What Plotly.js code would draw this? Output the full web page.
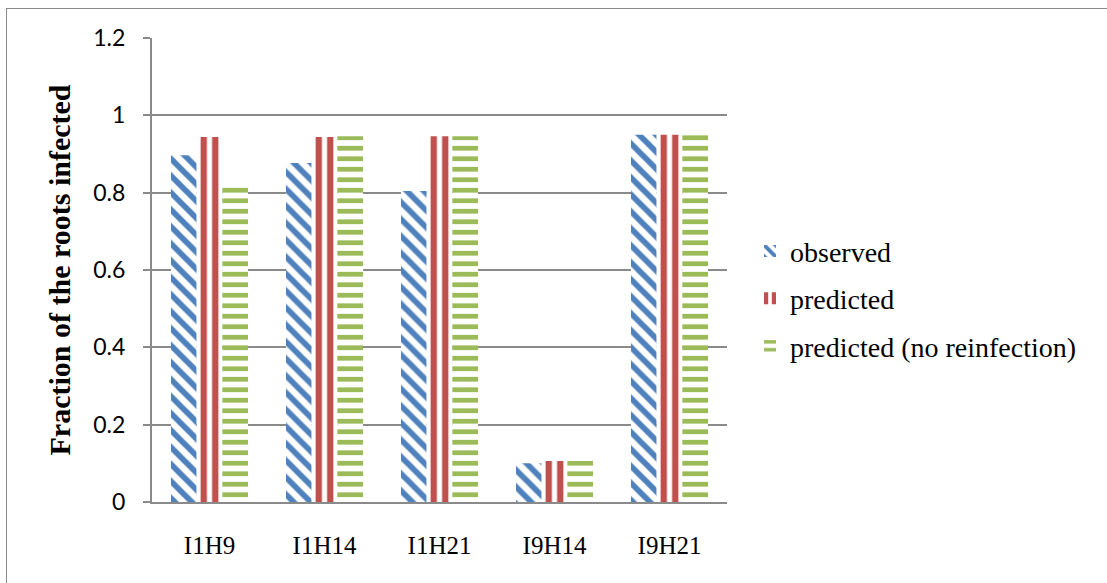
<!DOCTYPE html>
<html>
<head>
<meta charset="utf-8">
<script src="https://cdn.plot.ly/plotly-3.0.1.min.js"></script>
<style>
  html, body { margin: 0; padding: 0; background: #fff; overflow: hidden; }
  #wrap { position: relative; width: 1107px; height: 583px; }
  #chart { width: 1107px; height: 583px; }
  #frame { position: absolute; left: 6px; top: 8px; width: 1300px; height: 800px;
           border: 1px solid #8a8a8a; pointer-events: none; box-sizing: border-box; }
</style>
</head>
<body>
<div id="wrap">
  <div id="chart"></div>
  <div id="frame"></div>
</div>
<script>
const categories = ["I1H9", "I1H14", "I1H21", "I9H14", "I9H21"];
const observed = [0.897, 0.877, 0.804, 0.100, 0.950];
const predicted = [0.944, 0.944, 0.946, 0.106, 0.950];
const predictedNoReinfection = [0.815, 0.946, 0.946, 0.106, 0.950];
const yTickValues = [0, 0.2, 0.4, 0.6, 0.8, 1, 1.2];
const yTickLabels = ["0", "0.2", "0.4", "0.6", "0.8", "1", "1.2"];

const SERIF = "'Liberation Serif', 'Times New Roman', Times, serif";
const SANS = "Lato, 'Liberation Sans', sans-serif";

function bar(name, values, color, shape, size, solidity, group) {
  return {
    type: "bar",
    name: name,
    x: categories,
    y: values,
    legendgroup: group,
    marker: {
      color: "#ffffff",
      line: { width: 0 },
      pattern: { shape: shape, fgcolor: color, bgcolor: "#ffffff",
                 fillmode: "replace", size: size, solidity: solidity }
    },
    hoverinfo: "x+y+name"
  };
}

const data = [
  bar("observed", observed, "#4F81BD", "\\", 12, 0.48, "a"),
  bar("predicted", predicted, "#C0504D", "|", 11.5, 0.55, "b"),
  bar("predicted (no reinfection)", predictedNoReinfection, "#9BBB59", "-", 10.5, 0.45, "c")
];

const layout = {
  width: 1107,
  height: 583,
  margin: { l: 152, r: 380, t: 38, b: 81 },
  font: { family: SERIF, color: "#000" },
  paper_bgcolor: "#ffffff",
  plot_bgcolor: "#ffffff",
  barmode: "group",
  bargap: 0.33,
  bargroupgap: 0,
  showlegend: true,
  legend: {
    x: 1.04, xanchor: "left",
    y: 0.438, yanchor: "middle",
    traceorder: "grouped",
    tracegroupgap: 8,
    font: { family: SERIF, size: 28, color: "#000" },
    bgcolor: "rgba(0,0,0,0)"
  },
  xaxis: {
    type: "category",
    showgrid: false,
    showline: true,
    linecolor: "#8a8a8a",
    linewidth: 2,
    ticks: "",
    ticklabelstandoff: 20,
    tickfont: { family: SERIF, size: 25, color: "#000" },
    zeroline: false,
    fixedrange: true
  },
  yaxis: {
    range: [0, 1.2],
    tickvals: yTickValues,
    ticktext: yTickLabels,
    showgrid: true,
    gridcolor: "#8a8a8a",
    gridwidth: 1.6,
    showline: true,
    linecolor: "#8a8a8a",
    linewidth: 2,
    ticks: "outside",
    ticklen: 7,
    tickwidth: 2,
    tickcolor: "#8a8a8a",
    ticklabelstandoff: 13,
    tickfont: { family: SANS, size: 23, color: "#000" },
    zeroline: false,
    fixedrange: true,
    title: {
      text: "<b>Fraction of the roots infected</b>",
      font: { family: SERIF, size: 30, color: "#000" },
      standoff: 14
    }
  }
};

Plotly.newPlot("chart", data, layout, { displayModeBar: false });
</script>
</body>
</html>
